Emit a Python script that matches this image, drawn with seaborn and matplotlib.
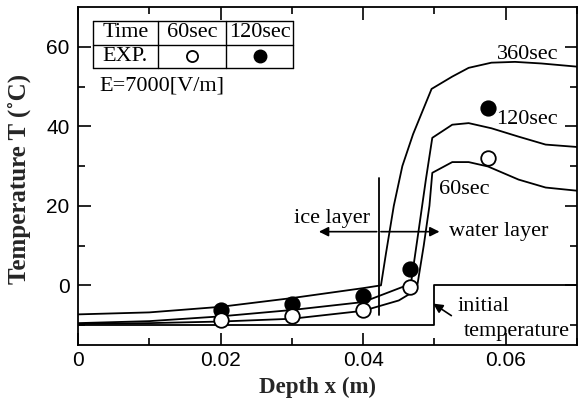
import matplotlib
matplotlib.use("Agg")
import matplotlib.pyplot as plt
import seaborn as sns
import pandas as pd
import numpy as np

# ---- data ----
x_360 = [0, 0.01, 0.02, 0.03, 0.04, 0.0425, 0.0432, 0.0443, 0.0455, 0.047, 0.0496, 0.0525, 0.0548, 0.058, 0.0613, 0.065, 0.07]
t_360 = [-7.3, -6.8, -5.4, -3.2, -0.7, 0.0, 8, 20, 30, 38, 49.4, 52.5, 54.7, 56.0, 56.2, 55.8, 55.0]

x_120 = [0, 0.01, 0.02, 0.03, 0.04, 0.0467, 0.0478, 0.0488, 0.0497, 0.0525, 0.0548, 0.058, 0.0618, 0.0656, 0.07]
t_120 = [-9.5, -9.0, -7.8, -6.2, -4.2, 0.4, 14, 26.6, 37.1, 40.4, 40.8, 39.5, 37.4, 35.4, 34.8]

x_60 = [0, 0.01, 0.02, 0.03, 0.04, 0.045, 0.0475, 0.0485, 0.0493, 0.0497, 0.0525, 0.0548, 0.0575, 0.0618, 0.0656, 0.07]
t_60 = [-9.7, -9.5, -9.1, -8.4, -6.4, -3.8, -1.1, 10, 20, 28.3, 31.0, 31.0, 29.9, 26.6, 24.6, 23.8]

x_init = [0, 0.05, 0.05, 0.07]
t_init = [-10, -10, 0, 0]

exp_x = [0.02, 0.03, 0.04, 0.0466, 0.0575]
exp_60 = [-8.8, -7.7, -6.2, -0.5, 32.0]
exp_120 = [-6.3, -4.8, -2.7, 4.2, 44.7]

curve_labels = ["360sec", "120sec", "60sec"]
table_header = ["Time", "60sec", "120sec"]
field_label = "E=7000[V/m]"

# ---- style ----
sns.set_style("ticks")
plt.rcParams["font.family"] = ["Liberation Sans", "DejaVu Sans"]
serif = "Liberation Serif"

fig = plt.figure(figsize=(5.79, 4.04), dpi=100)
ax = fig.add_axes([78/579, 1-345/404, (577-78)/579, (345-7)/404])

lw = 1.3
for xs, ts in [(x_360, t_360), (x_120, t_120), (x_60, t_60), (x_init, t_init)]:
    df = pd.DataFrame({"x": xs, "t": ts})
    sns.lineplot(data=df, x="x", y="t", sort=False, estimator=None,
                 color="black", lw=lw, ax=ax)

df60 = pd.DataFrame({"x": exp_x, "t": exp_60})
df120 = pd.DataFrame({"x": exp_x, "t": exp_120})
sns.scatterplot(data=df120, x="x", y="t", color="black", s=110,
                edgecolor="black", linewidth=1.2, zorder=5, ax=ax)
sns.scatterplot(data=df60, x="x", y="t", color="white", s=110,
                edgecolor="black", linewidth=1.3, zorder=5, ax=ax)

ax.set_xlim(0, 0.07)
ax.set_ylim(-15, 70)
ax.set_xticks([0, 0.02, 0.04, 0.06])
ax.set_xticklabels(["0", "0.02", "0.04", "0.06"])
ax.set_xticks(np.arange(0, 0.0701, 0.01), minor=True)
ax.set_yticks([0, 20, 40, 60])
ax.set_yticks(np.arange(-10, 70, 10), minor=True)
ax.tick_params(which="both", direction="in", top=True, right=True,
               labelsize=15, width=1.2, colors="black")
ax.tick_params(axis="x", pad=4)
ax.tick_params(axis="y", pad=6)
ax.tick_params(which="major", length=9)
ax.tick_params(which="minor", length=5)
for sp in ax.spines.values():
    sp.set_linewidth(1.3)
    sp.set_color("black")

ax.set_xlabel("Depth x (m)", fontsize=16.5, fontweight="bold", family=serif)
ax.set_ylabel("Temperature T (˚C)", fontsize=18, fontweight="bold", family=serif)
ax.xaxis.set_label_coords(0.48, -0.095)
ax.yaxis.set_label_coords(-0.095, 0.49)

tf = dict(family=serif, fontsize=16, color="black")
ax.text(0.0587, 58, curve_labels[0], ha="left", va="center", **tf)
ax.text(0.0587, 41.8, curve_labels[1], ha="left", va="center", **tf)
ax.text(0.0506, 24, curve_labels[2], ha="left", va="center", **tf)

# ice / water layer
ax.plot([0.0422, 0.0422], [-7.5, 27], color="black", lw=lw)
ax.annotate("", xy=(0.0334, 13.5), xytext=(0.0423, 13.5),
            arrowprops=dict(arrowstyle="-|>", color="black", lw=1.2, mutation_scale=14))
ax.annotate("", xy=(0.0511, 13.5), xytext=(0.0421, 13.5),
            arrowprops=dict(arrowstyle="-|>", color="black", lw=1.2, mutation_scale=14))
ax.text(0.0357, 16.8, "ice layer", ha="center", va="center", **tf)
ax.text(0.0520, 13.5, "water layer", ha="left", va="center", **tf)

# initial temperature
ax.annotate("", xy=(0.0495, -4.2), xytext=(0.0527, -8.0),
            arrowprops=dict(arrowstyle="-|>", color="black", lw=1.2, mutation_scale=14))
ax.text(0.0569, -5.3, "initial", ha="center", va="center", **tf)
ax.text(0.0615, -11.6, "temperature", ha="center", va="center", **tf)

# table
tx = [0.0021, 0.0112, 0.0208, 0.0302]
ty = [66.5, 60.5, 54.7]
for yv in ty:
    ax.plot([tx[0], tx[-1]], [yv, yv], color="black", lw=1.0)
for xv in tx:
    ax.plot([xv, xv], [ty[0], ty[-1]], color="black", lw=1.0)
ym1 = (ty[0] + ty[1]) / 2
ym2 = (ty[1] + ty[2]) / 2
for i, lab in enumerate(table_header):
    ax.text((tx[i] + tx[i+1]) / 2, ym1, lab, ha="center", va="center", **tf)
ax.text((tx[0] + tx[1]) / 2, ym2, "EXP.", ha="center", va="center", **tf)
ax.plot([(tx[1] + tx[2]) / 2], [ym2], "o", mfc="white", mec="black", ms=8, mew=1.3)
ax.plot([(tx[2] + tx[3]) / 2], [ym2], "o", mfc="black", mec="black", ms=9)
ax.text(0.0030, 50.2, field_label, ha="left", va="center", **tf)

fig.savefig("out.png", dpi=100)
